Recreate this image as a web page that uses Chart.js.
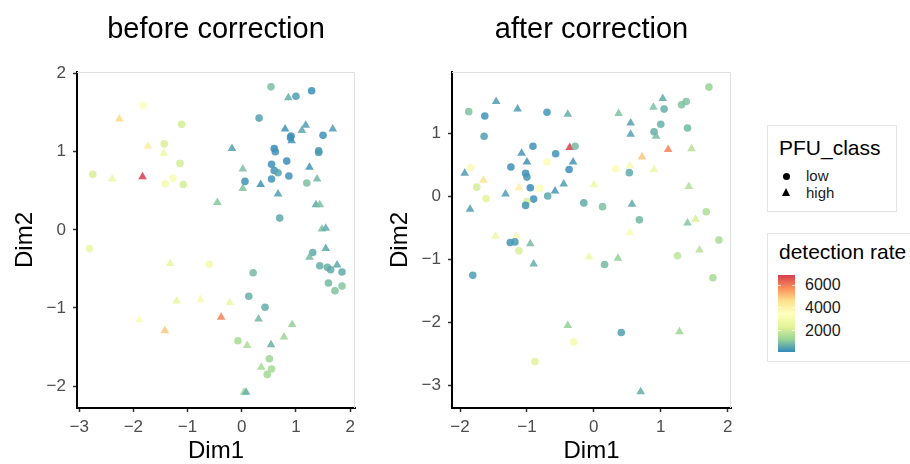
<!DOCTYPE html>
<html>
<head>
<meta charset="utf-8">
<script src="https://cdn.jsdelivr.net/npm/chart.js@4.4.1/dist/chart.umd.min.js"></script>
<style>
  body { margin: 0; width: 910px; height: 464px; background: #fff; position: relative; overflow: hidden;
         font-family: "Liberation Sans", Arial, sans-serif; }
  canvas { position: absolute; top: 0; }
  #before { left: 0; }
  #after { left: 370px; }
  .box { position: absolute; border: 1px solid #e3e3e3; box-sizing: border-box; background: #fff; }
  .abs { position: absolute; white-space: nowrap; }
  .ltitle { font-size: 21px; color: #000; }
  .llabel { font-size: 15px; color: #1a1a1a; }
  .dot { position: absolute; width: 7px; height: 7px; border-radius: 50%; background: #000; }
  .tri { position: absolute; width: 0; height: 0; border-left: 4.5px solid transparent;
         border-right: 4.5px solid transparent; border-bottom: 8px solid #000; }
  .bar { position: absolute; }
  .bartick { position: absolute; height: 1px; background: rgba(255,255,255,0.8); }
</style>
</head>
<body>
<canvas id="before" width="370" height="464"></canvas>
<canvas id="after" width="380" height="464"></canvas>
<div id="legend"></div>
<script>
const FONT = '"Liberation Sans", Arial, sans-serif';

// colour scale (Spectral, low -> high detection rate)
const RATE_MIN = 150;
const RATE_MAX = 6880;
const SPECTRAL = ['#3288BD', '#99D594', '#E6F598', '#FFFFBF', '#FEE08B', '#FC8D59', '#D53E4F'];
const rateTicks = [2000, 4000, 6000];
const shapeLabels = ['low', 'high'];

const beforeXTicks = [-3, -2, -1, 0, 1, 2];
const beforeYTicks = [-2, -1, 0, 1, 2];
const afterXTicks = [-2, -1, 0, 1, 2];
const afterYTicks = [-3, -2, -1, 0, 1];

// before correction
const beforeX = [0.54, 0.86, 1.00, 1.29, -1.82, -2.26, -1.11, 0.32, 0.80, 1.18,
  1.11, 0.91, 0.92, 0.90, 1.50, 1.68, -1.73, -1.43, -1.44, -0.18,
  0.60, 0.62, 1.42, 1.42, -2.75, -2.39, -1.83, -1.14, -1.27, -1.41,
  -1.08, 0.02, 0.02, 0.06, 0.35, 0.55, 0.60, 0.67, 0.83, 0.55,
  0.87, 1.25, 1.20, 1.39, 0.67, -0.45, 1.37, 1.44, 0.70, 1.48,
  1.55, -2.81, 1.55, 1.31, 1.25, -1.32, -0.60, 0.21, 1.44, 1.58,
  1.64, 1.76, 1.85, 1.60, 1.72, 1.85, 0.13, -1.20, -0.76, -0.22,
  0.43, -1.89, -0.38, 0.31, -1.42, 0.93, 0.78, -0.07, 0.10, 0.54,
  0.51, 0.36, 0.55, 0.47, 0.04, 0.08];
const beforeY = [1.83, 1.69, 1.71, 1.78, 1.59, 1.42, 1.35, 1.43, 1.29, 1.34,
  1.27, 1.20, 1.14, 1.18, 1.21, 1.29, 1.07, 1.10, 0.98, 1.04,
  1.04, 1.00, 1.01, 0.99, 0.71, 0.65, 0.68, 0.85, 0.66, 0.59,
  0.58, 0.78, 0.53, 0.62, 0.58, 0.84, 0.76, 0.73, 0.88, 0.65,
  0.69, 0.80, 0.60, 0.65, 0.46, 0.35, 0.32, 0.32, 0.15, 0.01,
  0.02, -0.24, -0.24, -0.29, -0.35, -0.43, -0.44, -0.55, -0.46, -0.48,
  -0.51, -0.45, -0.54, -0.68, -0.78, -0.72, -0.85, -0.91, -0.89, -0.93,
  -0.99, -1.15, -1.12, -1.14, -1.29, -1.21, -1.37, -1.42, -1.48, -1.47,
  -1.65, -1.76, -1.78, -1.85, -2.08, -2.08];
const beforeRate = [950, 700, 450, 250, 3400, 4700, 2100, 500, 300, 450,
  600, 250, 300, 280, 300, 450, 4200, 2200, 2700, 500,
  200, 320, 350, 420, 2200, 2700, 6880, 2100, 3200, 3000,
  2100, 1000, 1000, 300, 280, 300, 320, 550, 220, 320,
  300, 330, 950, 850, 450, 1050, 600, 950, 620, 950,
  650, 2700, 600, 650, 900, 2600, 3000, 900, 700, 700,
  650, 600, 650, 850, 1000, 1050, 750, 2500, 3100, 2700,
  700, 3300, 5900, 850, 5000, 1200, 1300, 1500, 1550, 750,
  1300, 1450, 1450, 1400, 1400, 700];
const beforeClass = ['low', 'high', 'low', 'low', 'low', 'high', 'low', 'low', 'high', 'high',
  'high', 'low', 'high', 'low', 'low', 'high', 'high', 'low', 'high', 'high',
  'low', 'low', 'low', 'low', 'low', 'high', 'high', 'low', 'low', 'low',
  'low', 'high', 'high', 'low', 'high', 'low', 'low', 'low', 'low', 'low',
  'low', 'high', 'low', 'high', 'high', 'high', 'high', 'high', 'low', 'high',
  'high', 'low', 'high', 'low', 'high', 'high', 'low', 'low', 'low', 'low',
  'low', 'high', 'low', 'low', 'low', 'low', 'low', 'high', 'high', 'high',
  'low', 'high', 'high', 'high', 'high', 'high', 'high', 'low', 'high', 'high',
  'low', 'high', 'low', 'low', 'high', 'high'];

// after correction
const afterX = [1.72, 1.03, -1.46, -1.87, -1.63, -1.14, -0.70, -0.39, 0.37, 0.89,
  1.05, 1.31, 1.38, 0.55, 1.00, 1.40, 0.90, 0.93, 0.55, -1.64,
  -0.91, -0.36, -0.28, -1.08, -0.57, 1.11, 1.46, 0.72, -1.00, -0.70,
  -0.31, -1.84, -1.24, -0.37, 0.33, 0.54, 0.90, -1.93, -1.02, -1.00,
  0.53, -1.65, -1.75, -1.12, -0.95, -0.81, -0.45, 0.00, 1.42, -1.32,
  -0.58, -0.69, -1.61, -0.90, -1.00, -1.02, -0.15, 0.13, 0.57, -1.85,
  1.68, 0.68, 1.40, 1.52, 0.54, -1.47, -1.16, -1.25, -1.18, -0.95,
  -1.12, 1.87, 1.58, 1.25, -0.07, 0.36, -0.90, -1.81, 0.16, 1.78,
  -0.39, 0.41, 1.28, -0.30, -0.88, 0.70];
const afterY = [1.74, 1.56, 1.51, 1.35, 1.28, 1.39, 1.34, 1.31, 1.32, 1.42,
  1.39, 1.46, 1.51, 1.17, 1.15, 1.09, 1.03, 0.96, 0.99, 0.96,
  0.80, 0.78, 0.80, 0.69, 0.68, 0.75, 0.76, 0.63, 0.55, 0.55,
  0.55, 0.46, 0.47, 0.43, 0.44, 0.49, 0.43, 0.37, 0.37, 0.31,
  0.38, 0.26, 0.15, 0.14, 0.14, 0.13, 0.20, 0.19, 0.16, 0.04,
  0.09, 0.01, -0.03, -0.04, -0.08, -0.14, -0.10, -0.16, -0.12, -0.20,
  -0.24, -0.37, -0.42, -0.36, -0.57, -0.63, -0.63, -0.73, -0.72, -0.75,
  -0.86, -0.69, -0.85, -0.94, -0.96, -0.98, -1.07, -1.25, -1.08, -1.29,
  -2.05, -2.16, -2.15, -2.31, -2.62, -3.10];
const afterRate = [1250, 650, 450, 1000, 300, 420, 350, 700, 1000, 950,
  700, 1000, 1000, 500, 750, 850, 700, 900, 500, 480,
  300, 6880, 900, 350, 300, 5900, 1700, 5000, 300, 3300,
  350, 3200, 280, 250, 3300, 3100, 2700, 450, 300, 350,
  650, 4500, 2100, 4100, 200, 3400, 450, 2800, 1650, 450,
  350, 600, 2400, 280, 2200, 330, 650, 950, 600, 450,
  1600, 850, 1050, 2200, 3200, 2700, 3000, 350, 400, 900,
  2200, 1500, 1700, 1800, 2800, 1200, 700, 450, 850, 1450,
  1200, 480, 1300, 3000, 2300, 700];
const afterClass = ['low', 'high', 'high', 'low', 'low', 'high', 'low', 'high', 'high', 'high',
  'low', 'low', 'low', 'high', 'low', 'low', 'low', 'high', 'high', 'low',
  'low', 'high', 'low', 'high', 'low', 'high', 'high', 'high', 'high', 'low',
  'high', 'low', 'low', 'low', 'low', 'high', 'high', 'high', 'low', 'low',
  'low', 'high', 'low', 'high', 'low', 'low', 'high', 'high', 'high', 'high',
  'high', 'low', 'low', 'low', 'low', 'low', 'low', 'low', 'high', 'high',
  'low', 'low', 'high', 'high', 'high', 'high', 'high', 'low', 'low', 'high',
  'low', 'low', 'high', 'low', 'high', 'high', 'high', 'low', 'low', 'low',
  'high', 'low', 'high', 'low', 'low', 'high'];

function hexToRgb(hex) {
  return [1, 3, 5].map(i => parseInt(hex.slice(i, i + 2), 16));
}

function rateColor(v, alpha) {
  const n = SPECTRAL.length - 1;
  const t = Math.min(1, Math.max(0, (v - RATE_MIN) / (RATE_MAX - RATE_MIN))) * n;
  const i = Math.min(Math.floor(t), n - 1);
  const f = t - i;
  const a = hexToRgb(SPECTRAL[i]);
  const b = hexToRgb(SPECTRAL[i + 1]);
  const c = a.map((x, k) => Math.round(x + (b[k] - x) * f));
  return `rgba(${c[0]}, ${c[1]}, ${c[2]}, ${alpha})`;
}

const minus = v => String(v).replace('-', '\u2212');

// light frame on top/right of the panel plus the panel title
const panelFrame = {
  id: 'panelFrame',
  beforeDatasetsDraw(chart, args, opts) {
    const { ctx, chartArea: a } = chart;
    ctx.save();
    ctx.strokeStyle = '#e0e0e0';
    ctx.lineWidth = 1;
    ctx.beginPath();
    ctx.moveTo(a.left, a.top + 0.5);
    ctx.lineTo(a.right - 0.5, a.top + 0.5);
    ctx.lineTo(a.right - 0.5, a.bottom);
    ctx.stroke();
    ctx.fillStyle = '#000';
    ctx.font = `${opts.size}px ${FONT}`;
    ctx.textAlign = 'center';
    ctx.textBaseline = 'middle';
    ctx.fillText(opts.text, (a.left + a.right) / 2, opts.y);
    ctx.restore();
  }
};

function buildPanel(id, p) {
  const axisTicks = {
    color: '#4d4d4d',
    font: { family: FONT, size: 17 },
    maxRotation: 0,
    callback: v => minus(v)
  };
  const grid = {
    display: true, drawOnChartArea: false, drawTicks: true,
    tickLength: 4, tickWidth: 1.5, tickColor: '#333'
  };
  return new Chart(document.getElementById(id), {
    type: 'scatter',
    data: {
      datasets: [{
        data: p.xs.map((x, i) => ({ x: x, y: p.ys[i] })),
        pointStyle: p.cls.map(c => c === 'high' ? 'triangle' : 'circle'),
        pointRadius: p.cls.map(c => c === 'high' ? 5 : 3.8),
        pointBackgroundColor: p.rates.map(r => rateColor(r, 0.85)),
        pointBorderWidth: 0
      }]
    },
    options: {
      responsive: false,
      animation: false,
      devicePixelRatio: 1,
      layout: { padding: { top: 72, right: p.padRight, left: 0, bottom: 0 } },
      plugins: {
        legend: { display: false },
        tooltip: { enabled: false },
        panelFrame: { text: p.title, y: 30, size: 29 }
      },
      scales: {
        x: {
          type: 'linear', min: p.xMin, max: p.xMax,
          afterBuildTicks: s => { s.ticks = p.xTicks.map(v => ({ value: v })); },
          afterFit: s => { s.height = 56; },
          border: { display: true, color: '#000', width: 2 },
          grid: grid,
          ticks: { ...axisTicks, padding: 5 },
          title: { display: true, text: 'Dim1', color: '#000',
                   font: { family: FONT, size: 24, lineHeight: 1 }, padding: { top: 0, bottom: 1 } }
        },
        y: {
          type: 'linear', min: p.yMin, max: p.yMax,
          afterBuildTicks: s => { s.ticks = p.yTicks.map(v => ({ value: v })); },
          afterFit: s => { s.width = p.yWidth; },
          border: { display: true, color: '#000', width: 2 },
          grid: grid,
          ticks: { ...axisTicks, padding: 7 },
          title: { display: true, text: 'Dim2', color: '#000',
                   font: { family: FONT, size: 24, lineHeight: 1 }, padding: { top: p.yTitlePad, bottom: 0 } }
        }
      }
    },
    plugins: [panelFrame]
  });
}

buildPanel('before', {
  xs: beforeX, ys: beforeY, rates: beforeRate, cls: beforeClass,
  xMin: -3.04, xMax: 2.09, yMin: -2.28, yMax: 2.02,
  xTicks: beforeXTicks, yTicks: beforeYTicks,
  title: 'before correction', yWidth: 77, padRight: 15, yTitlePad: 13
});

buildPanel('after', {
  xs: afterX, ys: afterY, rates: afterRate, cls: afterClass,
  xMin: -2.12, xMax: 2.05, yMin: -3.36, yMax: 1.98,
  xTicks: afterXTicks, yTicks: afterYTicks,
  title: 'after correction', yWidth: 82, padRight: 19, yTitlePad: 18
});

// legends: shape key and colour bar
const legend = document.getElementById('legend');
function add(cls, style, text) {
  const el = document.createElement('div');
  el.className = cls;
  Object.assign(el.style, style);
  if (text !== undefined) el.textContent = text;
  legend.appendChild(el);
  return el;
}

add('box', { left: '767px', top: '125px', width: '130px', height: '87px' });
add('abs ltitle', { left: '779px', top: '136px' }, 'PFU_class');
shapeLabels.forEach((label, i) => {
  const cy = 176 + i * 17;
  if (i === 0) add('dot', { left: (786 - 3.5) + 'px', top: (cy - 3.5) + 'px' });
  else add('tri', { left: (786 - 4.5) + 'px', top: (cy - 5) + 'px' });
  add('abs llabel', { left: '806px', top: (cy - 9) + 'px' }, label);
});

const BAR_TOP = 275, BAR_BOTTOM = 352;
add('box', { left: '767px', top: '233px', width: '160px', height: '129px' });
add('abs ltitle', { left: '779px', top: '240px' }, 'detection rate');
const stops = SPECTRAL.map((c, i) => `${c} ${(i / (SPECTRAL.length - 1) * 100).toFixed(1)}%`).join(', ');
add('bar', { left: '778px', top: BAR_TOP + 'px', width: '17px', height: (BAR_BOTTOM - BAR_TOP) + 'px',
             background: `linear-gradient(to top, ${stops})` });
rateTicks.forEach(v => {
  const y = BAR_BOTTOM - (v - RATE_MIN) / (RATE_MAX - RATE_MIN) * (BAR_BOTTOM - BAR_TOP);
  add('bartick', { left: '778px', top: (y - 0.5) + 'px', width: '3px' });
  add('bartick', { left: '792px', top: (y - 0.5) + 'px', width: '3px' });
  add('abs llabel', { left: '805px', top: (y - 9) + 'px', fontSize: '16px' }, String(v));
});
</script>
</body>
</html>
